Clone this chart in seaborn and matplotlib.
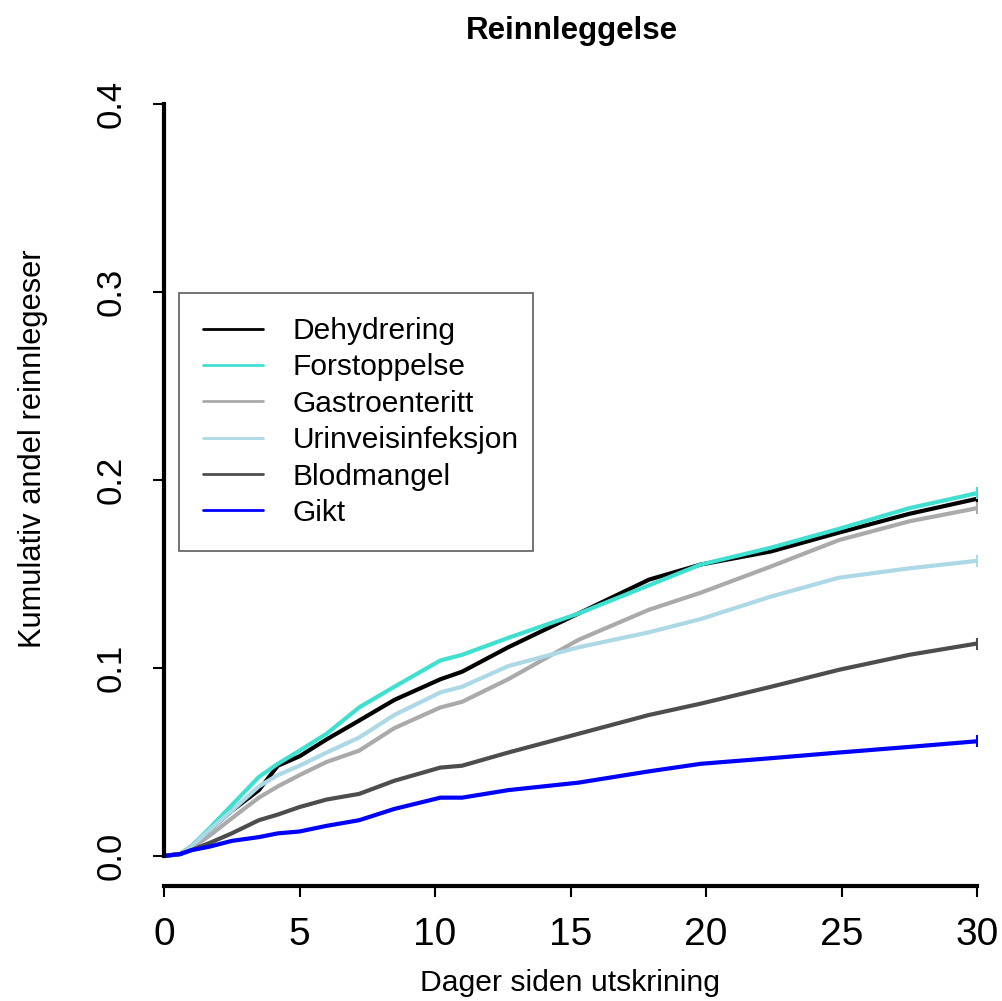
import matplotlib
matplotlib.use("Agg")
import matplotlib.pyplot as plt
import pandas as pd
import seaborn as sns

# Cumulative share of readmissions by days since discharge
days = [0, 0.6, 1, 1.7, 2.5, 3.5, 4.2, 5, 6, 7.2, 8.5, 10.2, 11, 12.7,
        15.3, 17.9, 19.8, 22.4, 24.9, 27.5, 30]
dehydrering = [0, 0.001, 0.005, 0.014, 0.024, 0.035, 0.048, 0.053, 0.062, 0.072, 0.083,
               0.094, 0.098, 0.111, 0.129, 0.147, 0.155, 0.162, 0.172, 0.182, 0.190]
forstoppelse = [0, 0.001, 0.005, 0.015, 0.027, 0.042, 0.049, 0.056, 0.065, 0.079, 0.090,
                0.104, 0.107, 0.116, 0.129, 0.144, 0.155, 0.164, 0.174, 0.185, 0.193]
gastroenteritt = [0, 0.001, 0.004, 0.011, 0.020, 0.031, 0.037, 0.043, 0.050, 0.056, 0.068,
                  0.079, 0.082, 0.094, 0.115, 0.131, 0.140, 0.154, 0.168, 0.178, 0.185]
urinveisinfeksjon = [0, 0.001, 0.005, 0.014, 0.024, 0.037, 0.043, 0.048, 0.055, 0.063, 0.075,
                     0.087, 0.090, 0.101, 0.111, 0.119, 0.126, 0.138, 0.148, 0.153, 0.157]
blodmangel = [0, 0.001, 0.003, 0.007, 0.012, 0.019, 0.022, 0.026, 0.030, 0.033, 0.040,
              0.047, 0.048, 0.055, 0.065, 0.075, 0.081, 0.090, 0.099, 0.107, 0.113]
gikt = [0, 0.001, 0.003, 0.005, 0.008, 0.010, 0.012, 0.013, 0.016, 0.019, 0.025,
        0.031, 0.031, 0.035, 0.039, 0.045, 0.049, 0.052, 0.055, 0.058, 0.061]

diagnoses = ["Dehydrering", "Forstoppelse", "Gastroenteritt",
             "Urinveisinfeksjon", "Blodmangel", "Gikt"]
series = [dehydrering, forstoppelse, gastroenteritt,
          urinveisinfeksjon, blodmangel, gikt]
colors = ["#000000", "#40E0D0", "#AAAAAA", "#ADD8E6", "#4D4D4D", "#0000FF"]

x_ticks = [0, 5, 10, 15, 20, 25, 30]
y_ticks = [0.0, 0.1, 0.2, 0.3, 0.4]

df = pd.concat(
    [pd.DataFrame({"dag": days, "andel": vals, "diagnose": name})
     for name, vals in zip(diagnoses, series)],
    ignore_index=True,
)

sns.set_theme(style="white")
plt.rcParams["font.family"] = ["Liberation Sans", "DejaVu Sans"]
plt.rcParams.update({"text.color": "black", "axes.labelcolor": "black",
                     "xtick.color": "black", "ytick.color": "black"})

fig = plt.figure(figsize=(10.02, 10.01), dpi=100)
ax = fig.add_axes([164 / 1002, 1 - 886 / 1001, (977 - 164) / 1002, (886 - 74) / 1001])

sns.lineplot(data=df, x="dag", y="andel", hue="diagnose", hue_order=diagnoses,
             palette=colors, linewidth=3, estimator=None, sort=False, ax=ax)

# censoring marks at the end of follow-up
for vals, c in zip(series, colors):
    ax.plot(days[-1], vals[-1], marker="+", color=c, markersize=9, mew=1.5)

ax.set_xlim(0, 30)
ax.set_ylim(-0.016, 0.416)

# base-graphics style axes: detached lines spanning only the tick range
for side in ["top", "right"]:
    ax.spines[side].set_visible(False)
ax.spines["left"].set_bounds(0, 0.4)
ax.spines["bottom"].set_bounds(0, 30)
for side in ["left", "bottom"]:
    ax.spines[side].set_linewidth(3)
    ax.spines[side].set_color("black")

ax.set_xticks(x_ticks)
ax.set_xticklabels([str(t) for t in x_ticks], fontsize=28)
ax.set_yticks(y_ticks)
ax.set_yticklabels([f"{t:.1f}" for t in y_ticks], fontsize=25,
                   rotation=90, va="center")
ax.tick_params(axis="both", direction="out", length=8, width=1.5,
               left=True, bottom=True)
ax.tick_params(axis="x", pad=14)
ax.tick_params(axis="y", pad=18)

ax.set_xlabel("Dager siden utskrining", fontsize=21.7, labelpad=12)
ax.set_ylabel("Kumulativ andel reinnlegeser", fontsize=22.2)
ax.yaxis.set_label_coords(-0.143, 0.539)
fig.text(572 / 1002, 1 - 31 / 1001, "Reinnleggelse", ha="center", va="center",
         fontsize=22.5, fontweight="bold")

leg = ax.legend(loc="upper left", bbox_to_anchor=(0.0185, 0.414, 0.4355, 0.316),
                mode="expand", frameon=True, fancybox=False, fontsize=21.5,
                handlelength=2.0, handletextpad=1.0, labelspacing=0.28,
                borderpad=0.8, borderaxespad=0)
leg.get_frame().set_edgecolor("#333333")
leg.get_frame().set_linewidth(1.2)
for text in leg.get_texts():
    text.set_color("black")
for line in leg.get_lines():
    line.set_linewidth(2)

fig.savefig("out.png", dpi=100, facecolor="white")
